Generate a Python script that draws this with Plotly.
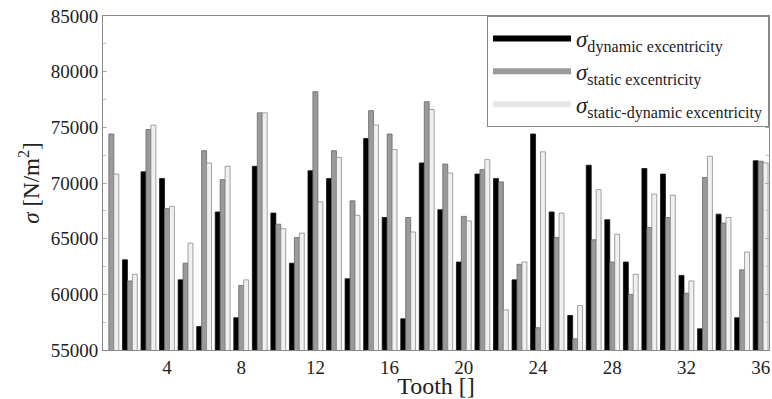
import plotly.graph_objects as go

teeth = list(range(1, 37))
dynamic = [54800, 63100, 71000, 70400, 61300, 57100, 67400, 57900, 71500, 67300,
           62800, 71100, 70400, 61400, 74000, 66900, 57800, 71800, 67600, 62900,
           70800, 70400, 61300, 74400, 67400, 58100, 71600, 66700, 62900, 71300,
           70800, 61700, 56900, 67200, 57900, 72000]
static = [74400, 61200, 74800, 67700, 62800, 72900, 70300, 60800, 76300, 66300,
          65100, 78200, 72900, 68400, 76500, 74400, 66900, 77300, 71700, 67000,
          71200, 70100, 62700, 57000, 65100, 56000, 64900, 62900, 60000, 66000,
          66900, 60100, 70500, 66400, 62200, 71950]
static_dynamic = [70800, 61800, 75200, 67900, 64600, 71800, 71500, 61300, 76300, 65900,
                  65500, 68300, 72300, 67100, 75200, 73000, 65600, 76600, 70900, 66600,
                  72100, 58600, 62900, 72800, 67300, 59000, 69400, 65400, 61800, 69000,
                  68900, 61200, 72400, 66900, 63800, 71800]
x_ticks = [4, 8, 12, 16, 20, 24, 28, 32, 36]

names = ["<i>σ</i><sub>dynamic excentricity</sub>",
         "<i>σ</i><sub>static excentricity</sub>",
         "<i>σ</i><sub>static-dynamic excentricity</sub>"]
fills = ["#000000", "#9a9a9a", "#f0f0f0"]
lines = ["#111111", "#666666", "#8a8a8a"]
legend_cols = ["#000000", "#9a9a9a", "#e6e6e6"]

fig = go.Figure()
for vals, fc, lc in zip([dynamic, static, static_dynamic], fills, lines):
    fig.add_trace(go.Bar(x=teeth, y=vals, marker=dict(color=fc, line=dict(color=lc, width=0.8)),
                         showlegend=False))
for nm, c in zip(names, legend_cols):
    fig.add_trace(go.Scatter(x=[None], y=[None], mode="lines", name=nm,
                             line=dict(color=c, width=6)))

font_fam = "Liberation Serif"
fig.update_layout(
    width=772, height=399,
    margin=dict(l=103, r=3, t=16, b=49),
    paper_bgcolor="white", plot_bgcolor="white",
    barmode="group", bargap=0.2, bargroupgap=0,
    font=dict(family=font_fam, color="#222222", size=19),
    legend=dict(x=1, y=1, xanchor="right", yanchor="top", bgcolor="white",
                bordercolor="#888888", borderwidth=1,
                font=dict(family=font_fam, size=23, color="#222222"),
                tracegroupgap=0, itemwidth=78),
    xaxis=dict(range=[0.55, 36.45], tickvals=x_ticks, ticktext=[str(t) for t in x_ticks],
               showgrid=False, zeroline=False, showline=True, linecolor="#888888",
               mirror=True, ticks="", title=dict(text="Tooth []", font=dict(size=24), standoff=0),
               tickfont=dict(size=19)),
    yaxis=dict(range=[55000, 85000], dtick=5000, showgrid=False, zeroline=False,
               showline=True, linecolor="#888888", mirror="ticks", ticks="inside",
               ticklen=4, tickcolor="#aaaaaa",
               minor=dict(dtick=2500, ticks="inside", ticklen=3, tickcolor="#bbbbbb"),
               title=dict(text="<i>σ</i> [N/m<sup>2</sup>]", font=dict(size=23), standoff=4),
               tickfont=dict(size=19), separatethousands=False, tickformat="d"),
)
fig.write_html("out.html")
